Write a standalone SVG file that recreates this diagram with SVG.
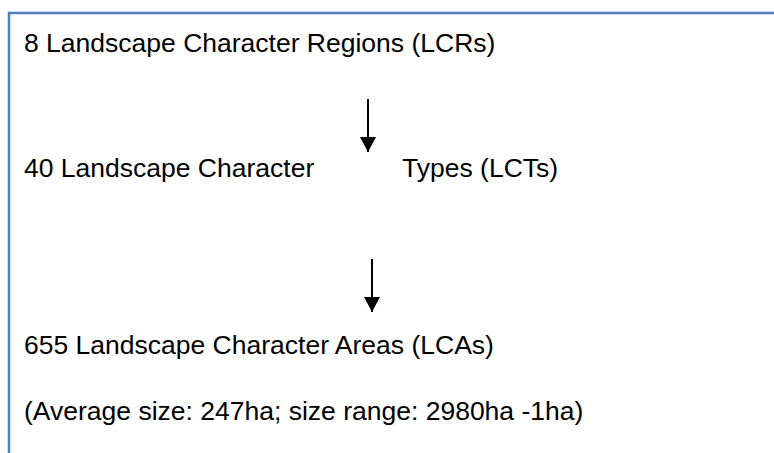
<svg xmlns="http://www.w3.org/2000/svg" width="774" height="453" viewBox="0 0 774 453">
<style>
.t{font-family:"Liberation Sans",Arial,sans-serif;font-size:26.5px;fill:#000}
.b{stroke:#4F81BD;stroke-width:2.5;fill:none}
.c{stroke:#000;stroke-width:2;fill:none}
</style>
<defs>
<marker id="ah" markerWidth="8" markerHeight="8" refX="7.5" refY="4" orient="auto" markerUnits="strokeWidth">
<path d="M0,0 L7.5,4 L0,8 Z" fill="#000"/>
</marker>
</defs>
<rect width="774" height="453" fill="#fff"/>
<g id="frame"><path class="b" d="M9,453 V13 H774"/></g>
<g id="n1"><text class="t" x="24" y="52">8 Landscape Character Regions (LCRs)</text></g>
<g id="n2"><text class="t" x="24" y="177">40 Landscape Character</text><text class="t" x="402" y="177">Types (LCTs)</text></g>
<g id="n3"><text class="t" x="24" y="354">655 Landscape Character Areas (LCAs)</text></g>
<g id="n4"><text class="t" x="24" y="420">(Average size: 247ha; size range: 2980ha -1ha)</text></g>
<g id="connectors">
<line class="c" x1="368" y1="99" x2="368" y2="152" marker-end="url(#ah)"/>
<line class="c" x1="372" y1="259" x2="372" y2="312" marker-end="url(#ah)"/>
</g>
</svg>
